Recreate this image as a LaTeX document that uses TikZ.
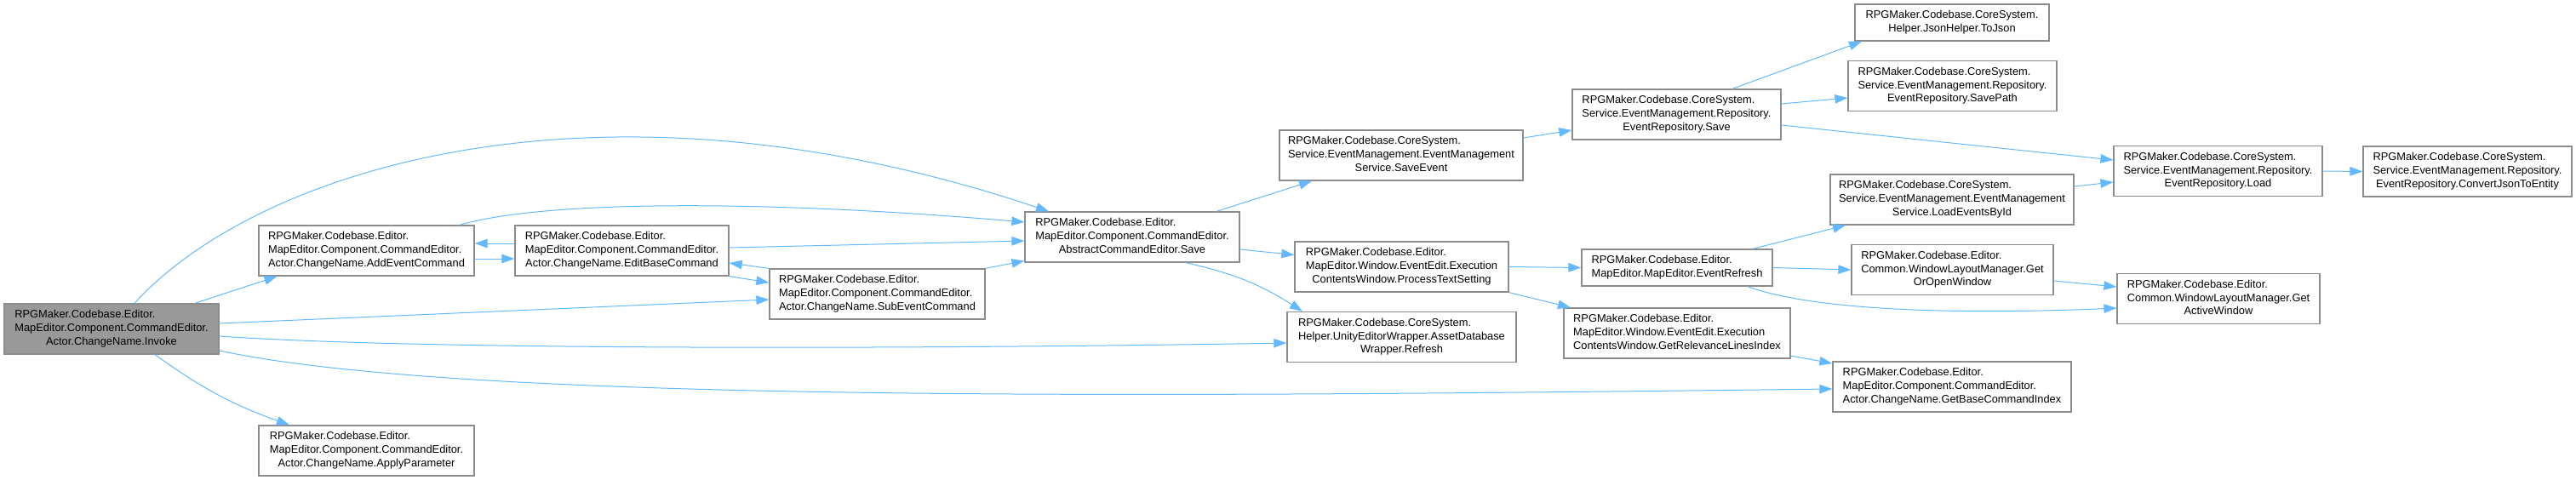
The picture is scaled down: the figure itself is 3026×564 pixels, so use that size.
\documentclass[tikz,border=0pt]{standalone}
\usepackage{fontspec}
\setmainfont{Liberation Sans}
\usetikzlibrary{arrows.meta}
\definecolor{edgeblue}{HTML}{63B8FF}
\definecolor{boxgray}{HTML}{8C8C8C}
\definecolor{mainfill}{HTML}{999999}

\begin{document}
\begin{tikzpicture}[x=1pt,y=1pt,
  fn/.style={draw=boxgray, line width=1.3pt, fill=white, inner sep=0pt,
    font=\fontsize{12.86}{15.8}\selectfont, minimum height=59pt},
  edge/.style={draw=edgeblue, line width=1pt, -{Triangle[length=15pt,width=10.5pt]}},
]
\newcommand\Fn[2]{\begin{tabular}{@{}l@{}}#1\\\multicolumn{1}{@{}c@{}}{#2}\end{tabular}}
\useasboundingbox (0,0) rectangle (3026,-564);

\node[fn, fill=mainfill, minimum width=252pt] (invoke) at (131,-386.5) {\Fn{RPGMaker.Codebase.Editor.\\MapEditor.Component.CommandEditor.}{Actor.ChangeName.Invoke}};
\node[fn, minimum width=253pt] (addev) at (430.5,-294.5) {\Fn{RPGMaker.Codebase.Editor.\\MapEditor.Component.CommandEditor.}{Actor.ChangeName.AddEventCommand}};
\node[fn, minimum width=253pt] (applyp) at (430.5,-529.5) {\Fn{RPGMaker.Codebase.Editor.\\MapEditor.Component.CommandEditor.}{Actor.ChangeName.ApplyParameter}};
\node[fn, minimum width=251pt] (editbase) at (730.5,-294.5) {\Fn{RPGMaker.Codebase.Editor.\\MapEditor.Component.CommandEditor.}{Actor.ChangeName.EditBaseCommand}};
\node[fn, minimum width=253pt] (subev) at (1030.5,-345.5) {\Fn{RPGMaker.Codebase.Editor.\\MapEditor.Component.CommandEditor.}{Actor.ChangeName.SubEventCommand}};
\node[fn, minimum width=252pt] (save) at (1330,-278.5) {\Fn{RPGMaker.Codebase.Editor.\\MapEditor.Component.CommandEditor.}{AbstractCommandEditor.Save}};
\node[fn, minimum width=286pt] (saveev) at (1646,-182.5) {\Fn{RPGMaker.Codebase.CoreSystem.\\Service.EventManagement.EventManagement}{Service.SaveEvent}};
\node[fn, minimum width=251pt] (proctext) at (1646.5,-313.5) {\Fn{RPGMaker.Codebase.Editor.\\MapEditor.Window.EventEdit.Execution}{ContentsWindow.ProcessTextSetting}};
\node[fn, minimum width=269pt] (refresh) at (1646.5,-396) {\Fn{RPGMaker.Codebase.CoreSystem.\\Helper.UnityEditorWrapper.AssetDatabase}{Wrapper.Refresh}};
\node[fn, minimum width=245pt] (evrepsave) at (1969.5,-134.5) {\Fn{RPGMaker.Codebase.CoreSystem.\\Service.EventManagement.Repository.}{EventRepository.Save}};
\node[fn, minimum width=228pt, minimum height=43pt] (tojson) at (2293,-26.5) {\Fn{RPGMaker.Codebase.CoreSystem.}{Helper.JsonHelper.ToJson}};
\node[fn, minimum width=245pt] (savepath) at (2293.5,-101) {\Fn{RPGMaker.Codebase.CoreSystem.\\Service.EventManagement.Repository.}{EventRepository.SavePath}};
\node[fn, minimum width=245pt] (load) at (2605.5,-201) {\Fn{RPGMaker.Codebase.CoreSystem.\\Service.EventManagement.Repository.}{EventRepository.Load}};
\node[fn, minimum width=245pt] (convert) at (2898.5,-201.5) {\Fn{RPGMaker.Codebase.CoreSystem.\\Service.EventManagement.Repository.}{EventRepository.ConvertJsonToEntity}};
\node[fn, minimum width=224pt, minimum height=43pt] (evrefresh) at (1970,-314.5) {\Fn{RPGMaker.Codebase.Editor.}{MapEditor.MapEditor.EventRefresh}};
\node[fn, minimum width=266pt] (relev) at (1970,-391.5) {\Fn{RPGMaker.Codebase.Editor.\\MapEditor.Window.EventEdit.Execution}{ContentsWindow.GetRelevanceLinesIndex}};
\node[fn, minimum width=286pt] (loadev) at (2293,-234.5) {\Fn{RPGMaker.Codebase.CoreSystem.\\Service.EventManagement.EventManagement}{Service.LoadEventsById}};
\node[fn, minimum width=237pt] (getopen) at (2293.5,-317) {\Fn{RPGMaker.Codebase.Editor.\\Common.WindowLayoutManager.Get}{OrOpenWindow}};
\node[fn, minimum width=238pt] (getactive) at (2606,-351) {\Fn{RPGMaker.Codebase.Editor.\\Common.WindowLayoutManager.Get}{ActiveWindow}};
\node[fn, minimum width=280pt] (getbase) at (2293,-454.5) {\Fn{RPGMaker.Codebase.Editor.\\MapEditor.Component.CommandEditor.}{Actor.ChangeName.GetBaseCommandIndex}};

\draw[edge] ([xshift=98pt]invoke.north) -- ([xshift=-105pt]addev.south);
\draw[edge] ([xshift=51pt]invoke.south) to[bend right=8] ([xshift=-90.5pt]applyp.north);
\draw[edge] ([xshift=27pt]invoke.north) .. controls (300,-200) and (700,-70) .. ([xshift=-98pt]save.north);
\draw[edge] ([xshift=109.5pt]addev.north) .. controls (640,-235) and (900,-235) .. ([yshift=17.5pt]save.west);
\draw[edge] ([yshift=8.5pt]editbase.west) -- ([yshift=8.5pt]addev.east);
\draw[edge] ([yshift=-9.5pt]addev.east) -- ([yshift=-9.5pt]editbase.west);
\draw[edge] ([yshift=3.5pt]editbase.east) -- ([yshift=-4.5pt]save.west);
\draw[edge] (editbase.south east) -- ([yshift=13.5pt]subev.west);
\draw[edge] (subev.north west) -- ([yshift=-14.5pt]editbase.east);
\draw[edge] (subev.north east) -- ([yshift=-28pt]save.west);
\draw[edge] ([yshift=6.5pt]invoke.east) -- ([yshift=-6.5pt]subev.west);
\draw[edge] ([yshift=-8.5pt]invoke.east) .. controls (500,-412) and (1100,-410) .. ([yshift=-7pt]refresh.west);
\draw[edge] ([yshift=-25.5pt]invoke.east) .. controls (550,-475) and (1400,-466) .. ([yshift=-2.5pt]getbase.west);
\draw[edge] ([xshift=99pt]save.north) -- ([xshift=-105pt]saveev.south);
\draw[edge] ([yshift=-14.5pt]save.east) -- ([yshift=14pt]proctext.west);
\draw[edge] ([xshift=63pt]save.south) to[bend left=10] ([xshift=-116.5pt]refresh.north);
\draw[edge] ([yshift=20.5pt]saveev.east) -- ([yshift=-18.5pt]evrepsave.west);
\draw[edge] ([xshift=65.5pt]evrepsave.north) -- ([xshift=-106pt]tojson.south);
\draw[edge] ([yshift=12.5pt]evrepsave.east) -- ([yshift=-14pt]savepath.west);
\draw[edge] ([yshift=-12.5pt]evrepsave.east) -- ([yshift=13pt]load.west);
\draw[edge] (proctext.east) -- (evrefresh.west);
\draw[edge] (proctext.south east) -- ([xshift=-125pt]relev.north);
\draw[edge] ([xshift=89pt]evrefresh.north) -- ([xshift=-125pt]loadev.south);
\draw[edge] (evrefresh.east) -- (getopen.west);
\draw[edge] ([xshift=83pt]evrefresh.south) .. controls (2130,-365) and (2300,-370) .. ([yshift=-11pt]getactive.west);
\draw[edge] ([yshift=15.5pt]loadev.east) -- ([yshift=-13pt]load.west);
\draw[edge] ([yshift=-13pt]getopen.east) -- ([yshift=14pt]getactive.west);
\draw[edge] (load.east) -- (convert.west);
\draw[edge] ([yshift=-26.5pt]relev.east) -- ([yshift=27.5pt]getbase.west);
\end{tikzpicture}
\end{document}
